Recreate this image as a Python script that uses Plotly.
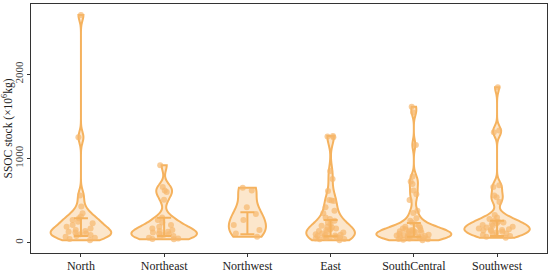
import numpy as np
import plotly.graph_objects as go

# regions on the x axis
regions = ["North", "Northeast", "Northwest", "East", "SouthCentral", "Southwest"]

north = [2700, 1250, 560, 430, 350, 310, 290, 270, 250, 230, 210, 190, 170, 150, 140,
         130, 120, 110, 100, 90, 80, 70, 60, 45, 30]
northeast = [920, 660, 620, 600, 510, 300, 270, 240, 210, 190, 170, 150, 140, 130, 120,
             110, 100, 90, 80, 70, 60, 50, 45, 40]
northwest = [652, 620, 420, 340, 270, 210, 150, 110, 70]
east = [1265, 1260, 1250, 850, 755, 612, 506, 500, 495, 420, 380, 350, 300, 280, 260,
        240, 220, 200, 190, 180, 170, 160, 150, 140, 130, 120, 110, 100, 95, 90, 85, 80,
        75, 70, 65, 60, 55, 50, 45, 40, 30]
southcentral = [1613, 1545, 1160, 785, 725, 695, 618, 575, 507, 380, 352, 290, 260, 240,
                220, 200, 190, 180, 170, 160, 155, 150, 145, 140, 135, 130, 125, 120, 115,
                110, 105, 100, 95, 90, 85, 80, 75, 70, 70, 65, 60, 60, 55, 50, 45, 40, 35,
                30]
southwest = [1845, 1330, 1310, 680, 660, 560, 540, 483, 330, 300, 280, 260, 250, 240, 230,
             220, 210, 200, 190, 180, 170, 160, 155, 150, 145, 140, 130, 120, 110, 100, 90,
             80, 70, 60]

# error bar ends drawn inside each violin
err_low = [79, 79, 99, 76, 70, 79]
err_high = [289, 297, 360, 269, 233, 261]

LINE = "#F5B25E"
FILL = "rgba(250,210,160,0.55)"
PTS = "rgba(246,184,110,0.7)"
FONT = "Liberation Serif"


def bw_nrd0(v):
    # same rule as R's bw.nrd0 (ggplot default)
    v = np.asarray(v, dtype=float)
    q75, q25 = np.percentile(v, [75, 25])
    lo = min(np.std(v, ddof=1), (q75 - q25) / 1.34)
    return 0.9 * lo * len(v) ** -0.2


fig = go.Figure()

for name, vals in zip(regions, [north, northeast, northwest, east, southcentral, southwest]):
    fig.add_trace(go.Violin(
        x=[name] * len(vals), y=vals,
        bandwidth=bw_nrd0(vals),
        spanmode="hard",
        scalegroup="all", scalemode="width",
        line=dict(color=LINE, width=2),
        fillcolor=FILL,
        points="all", pointpos=0, jitter=0.5,
        marker=dict(color=PTS, size=6, line=dict(width=0)),
        box_visible=False, meanline_visible=False,
        showlegend=False, hoverinfo="y",
    ))

# the little "I" bars
fig.add_trace(go.Scatter(
    x=regions, y=err_low, mode="markers",
    marker=dict(size=1, color="rgba(0,0,0,0)"),
    error_y=dict(type="data", symmetric=False,
                 array=[h - l for h, l in zip(err_high, err_low)],
                 arrayminus=[0] * len(regions),
                 color=LINE, thickness=2, width=7),
    showlegend=False, hoverinfo="skip",
))

fig.update_layout(
    width=550, height=273,
    margin=dict(l=31, r=3, t=4, b=20),
    plot_bgcolor="white", paper_bgcolor="white",
    violinmode="overlay", violingap=0.1, violingroupgap=0,
    font=dict(family=FONT, size=12, color="#222"),
)
fig.update_xaxes(
    categoryorder="array", categoryarray=regions,
    range=[-0.6, 5.6], automargin=False,
    showline=True, linecolor="#333", linewidth=1.2, mirror=True,
    ticks="outside", ticklen=3, tickcolor="#333",
    tickfont=dict(size=12, color="#222"), ticklabelstandoff=-2,
    showgrid=False, zeroline=False,
)
fig.update_yaxes(
    range=[-122, 2831], automargin=False,
    tickvals=[0, 1000, 2000], tickangle=-90,
    showline=True, linecolor="#333", linewidth=1.2, mirror=True,
    ticks="outside", ticklen=3, tickcolor="#333",
    tickfont=dict(size=11, color="#444"),
    title=dict(text="SSOC stock (×10<sup>6</sup>kg)", font=dict(size=11.5, color="#222"), standoff=2),
    showgrid=False, zeroline=False,
)

# page body has a default 8px margin; drop it so the figure sits at the window corner
fig.write_html("out.html", config={"displayModeBar": False},
               post_script="document.body.style.margin='0px';")
